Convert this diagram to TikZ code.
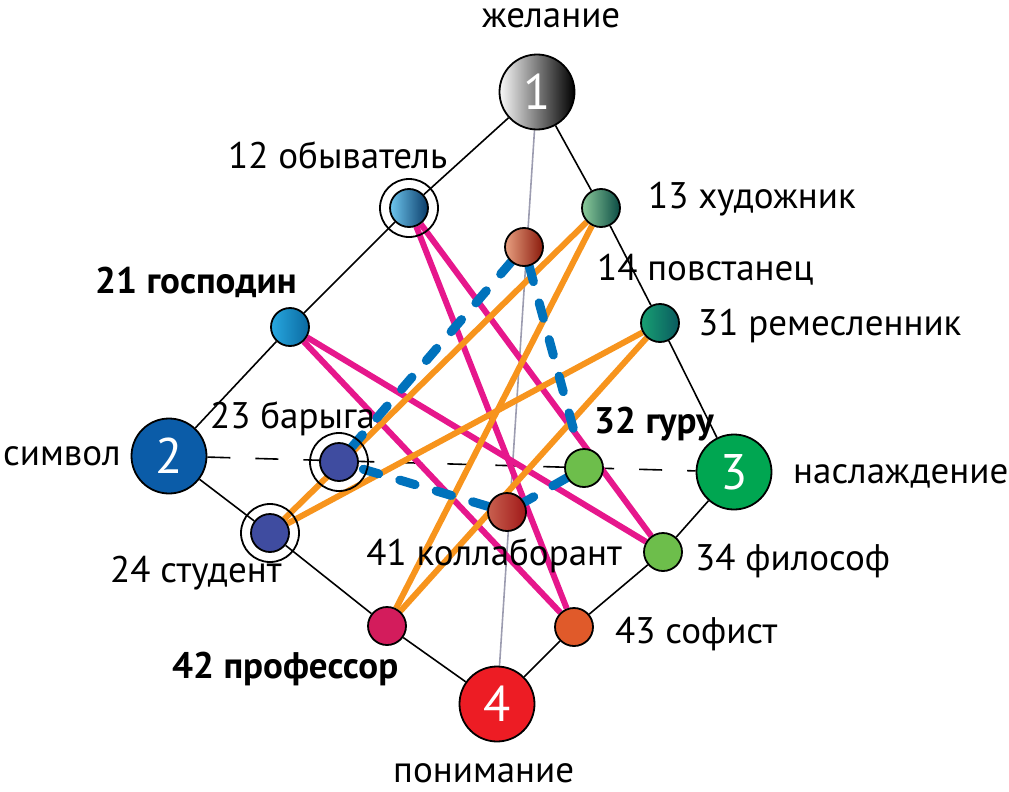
\documentclass[tikz,border=0pt]{standalone}
\usepackage{fontspec}
\setmainfont{PT Sans}
\usetikzlibrary{backgrounds}
\definecolor{Mag}{HTML}{E6178C}
\definecolor{Ora}{HTML}{F7941D}
\definecolor{Blu}{HTML}{0072BC}
\definecolor{Line}{HTML}{9C9CB0}

\begin{document}
\begin{tikzpicture}[x=1pt,y=-1pt,
  big/.style={circle,draw=black,line width=1.8pt,minimum size=75pt,inner sep=0pt,
     text=white,font=\fontsize{50}{50}\selectfont},
  pt/.style={circle,draw=black,line width=1.8pt,minimum size=38pt,inner sep=0pt},
  ring/.style={circle,draw=black,line width=1.8pt,minimum size=58pt,inner sep=0pt},
  lab/.style={font=\fontsize{37}{37}\selectfont,inner sep=0pt,anchor=base west},
  blab/.style={lab,font=\bfseries\fontsize{37}{37}\selectfont},
  rib/.style={line width=1.6pt},
  mag/.style={line width=6pt,draw=Mag},
  ora/.style={line width=6pt,draw=Ora},
  blu/.style={line width=9pt,draw=Blu,line cap=round,dash pattern=on 16pt off 22pt}]
\useasboundingbox (0,0) rectangle (1009,792);
\node[big,shading=axis,left color=gray!5,right color=black] (n1) at (537,92) {1};
\node[big,fill={rgb,255:red,11;green,92;blue,168}] (n2) at (169,456) {2};
\node[big,fill={rgb,255:red,0;green,166;blue,81}] (n3) at (734,472) {3};
\node[big,fill={rgb,255:red,237;green,28;blue,36}] (n4) at (497,704) {4};
\node[pt,shading=axis,left color={rgb,255:red,110;green,198;blue,238},right color={rgb,255:red,10;green,60;blue,105}] (n12) at (409,208) {};
\node[ring] (r12) at (409,208) {};
\node[pt,shading=axis,left color={rgb,255:red,140;green,203;blue,155},right color={rgb,255:red,10;green,75;blue,68}] (n13) at (601,208) {};
\node[pt,shading=axis,left color={rgb,255:red,232;green,160;blue,128},right color={rgb,255:red,138;green,26;blue,12}] (n14) at (524,247) {};
\node[pt,shading=axis,left color={rgb,255:red,40;green,168;blue,224},right color={rgb,255:red,10;green,105;blue,160}] (n21) at (290,327) {};
\node[pt,shading=axis,left color={rgb,255:red,24;green,160;blue,115},right color={rgb,255:red,10;green,90;blue,95}] (n31) at (660,323) {};
\node[pt,fill={rgb,255:red,63;green,76;blue,160}] (n23) at (339,462) {};
\node[ring] (r23) at (339,462) {};
\node[pt,fill={rgb,255:red,63;green,76;blue,160}] (n24) at (270,533) {};
\node[ring] (r24) at (270,533) {};
\node[pt,fill={rgb,255:red,109;green,190;blue,75}] (n32) at (584,468) {};
\node[pt,shading=axis,left color={rgb,255:red,200;green,96;blue,79},right color={rgb,255:red,160;green,24;blue,24}] (n41) at (507,512) {};
\node[pt,fill={rgb,255:red,109;green,190;blue,75}] (n34) at (663,552) {};
\node[pt,fill={rgb,255:red,211;green,28;blue,92}] (n42) at (387,626) {};
\node[pt,fill={rgb,255:red,224;green,90;blue,42}] (n43) at (574,627) {};
\node[lab] (l1) at (482,28) {желание};
\node[lab] (l12) at (228,168) {12 обыватель};
\node[lab] (l13) at (648,208) {13 художник};
\node[lab] (l14) at (597,280) {14 повстанец};
\node[blab] (l21) at (95,293) {21 господин};
\node[lab] (l31) at (698,335) {31 ремесленник};
\node[lab] (l23) at (210,428) {23 барыга};
\node[lab] (l2) at (3,465) {символ};
\node[blab] (l32) at (594,433) {32 гуру};
\node[lab] (l3) at (793,483) {наслаждение};
\node[lab,anchor=base east] (l41) at (622,565) {41 коллаборант};
\node[lab] (l34) at (695,570) {34 философ};
\node[lab] (l24) at (110,582) {24 студент};
\node[lab] (l43) at (615,643) {43 софист};
\node[blab] (l42) at (172,678) {42 профессор};
\node[lab] (l4) at (393,782) {понимание};
\begin{scope}[on background layer]
\draw[rib] (n1)--(n12)--(n21)--(n2);
\draw[rib] (n1)--(n13)--(n31)--(n3);
\draw[rib] (n2)--(n24)--(n42)--(n4);
\draw[rib] (n3)--(n34)--(n43)--(n4);
\draw[rib,draw=Line] (n1)--(n4);
\draw[rib,dash pattern=on 23pt off 25pt] (n2)--(n3);
\draw[mag] (n12)--(n43); \draw[mag] (n12)--(n34);
\draw[mag] (n21)--(n34); \draw[mag] (n21)--(n43);
\draw[ora] (n13)--(n24); \draw[ora] (n13)--(n42);
\draw[ora] (n31)--(n24); \draw[ora] (n31)--(n42);
\draw[blu] (n23)--(n14)--(n32)--(n41)--(n23);
\end{scope}
\end{tikzpicture}
\end{document}
